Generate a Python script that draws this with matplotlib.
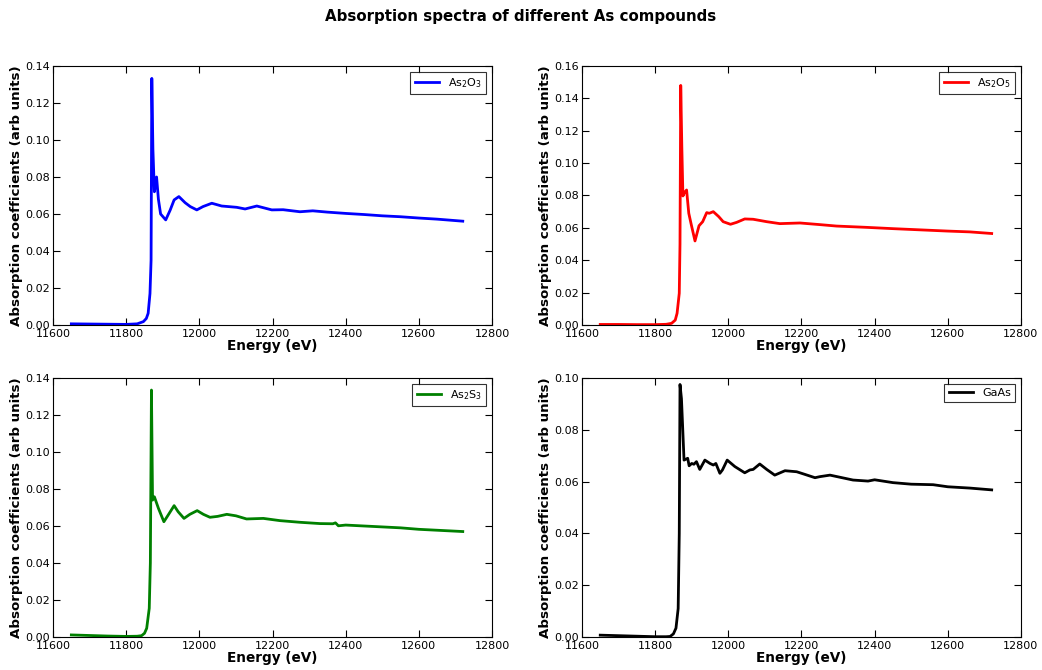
import numpy as np
import matplotlib
matplotlib.use("Agg")
from matplotlib import pyplot as plt
from matplotlib.ticker import FormatStrFormatter

# Spectra (energy in eV, absorption in arb units)
e_as2o3 = [11650, 11700, 11750, 11800, 11830, 11847, 11855, 11860, 11865, 11868,
           11870, 11873, 11877, 11883, 11888, 11894, 11908, 11920, 11931, 11944,
           11961, 11975, 11993, 12010, 12034, 12061, 12102, 12125, 12157, 12198,
           12229, 12275, 12310, 12350, 12400, 12450, 12500, 12550, 12600, 12650, 12720]
a_as2o3 = [0.0006, 0.0005, 0.0004, 0.0003, 0.0006, 0.0018, 0.0035, 0.0063, 0.017, 0.035,
           0.1333, 0.095, 0.072, 0.080, 0.068, 0.060, 0.0568, 0.062, 0.0676, 0.0694,
           0.0661, 0.064, 0.0622, 0.064, 0.0658, 0.0643, 0.0636, 0.0627, 0.0643, 0.0622,
           0.0623, 0.0612, 0.0617, 0.0610, 0.0603, 0.0597, 0.0590, 0.0585, 0.0578, 0.0572, 0.0561]

e_as2o5 = [11650, 11700, 11750, 11800, 11830, 11845, 11855, 11860, 11866, 11868,
           11870, 11873, 11876, 11881, 11886, 11892, 11898, 11909, 11920, 11930,
           11941, 11948, 11959, 11974, 11986, 12006, 12023, 12045, 12068, 12105,
           12141, 12196, 12250, 12296, 12378, 12450, 12520, 12600, 12660, 12720]
a_as2o5 = [0.0003, 0.0003, 0.0002, 0.0002, 0.0004, 0.001, 0.003, 0.0072, 0.0196, 0.05,
           0.148, 0.11, 0.0797, 0.082, 0.0834, 0.069, 0.0628, 0.0519, 0.0613, 0.0638,
           0.0694, 0.069, 0.070, 0.0669, 0.0638, 0.0622, 0.0634, 0.0655, 0.0653, 0.0638,
           0.0626, 0.063, 0.062, 0.0611, 0.0603, 0.0595, 0.0588, 0.058, 0.0575, 0.0565]

e_as2s3 = [11650, 11700, 11750, 11800, 11830, 11842, 11850, 11856, 11863, 11866,
           11869, 11872, 11877, 11888, 11903, 11915, 11931, 11942, 11958, 11974,
           11994, 12011, 12029, 12050, 12075, 12100, 12129, 12175, 12220, 12275,
           12330, 12365, 12372, 12380, 12400, 12450, 12500, 12550, 12600, 12660, 12720]
a_as2s3 = [0.0011, 0.0008, 0.0005, 0.0003, 0.0004, 0.0007, 0.002, 0.0047, 0.0155, 0.04,
           0.1335, 0.074, 0.0758, 0.0696, 0.0623, 0.066, 0.071, 0.0677, 0.0641, 0.0663,
           0.0683, 0.0663, 0.0647, 0.0652, 0.0663, 0.0655, 0.0638, 0.0641, 0.0629, 0.062,
           0.0613, 0.0612, 0.0617, 0.0601, 0.0605, 0.0600, 0.0595, 0.0590, 0.0582, 0.0576, 0.0570]

e_gaas = [11650, 11700, 11750, 11800, 11830, 11841, 11850, 11857, 11863, 11866,
          11868, 11872, 11875, 11879, 11889, 11893, 11900, 11906, 11913, 11922,
          11936, 11950, 11959, 11966, 11977, 11984, 11997, 12018, 12045, 12059,
          12068, 12086, 12105, 12127, 12155, 12187, 12209, 12237, 12250, 12278,
          12341, 12382, 12400, 12450, 12500, 12560, 12600, 12660, 12720]
a_gaas = [0.0007, 0.0005, 0.0003, 0.0001, 0.0001, 0.0002, 0.0012, 0.0034, 0.011, 0.04,
          0.0975, 0.092, 0.0819, 0.0683, 0.069, 0.0661, 0.067, 0.0667, 0.0677, 0.0647,
          0.0683, 0.067, 0.0664, 0.067, 0.0632, 0.0645, 0.0683, 0.0658, 0.0634, 0.0645,
          0.0647, 0.0668, 0.0647, 0.0625, 0.0642, 0.0638, 0.0628, 0.0615, 0.0619, 0.0625,
          0.0606, 0.0602, 0.0607, 0.0596, 0.0590, 0.0588, 0.0580, 0.0575, 0.0568]

series = [
    (e_as2o3, a_as2o3, "b", r"As$_2$O$_3$", 0.14),
    (e_as2o5, a_as2o5, "r", r"As$_2$O$_5$", 0.16),
    (e_as2s3, a_as2s3, "g", r"As$_2$S$_3$", 0.14),
    (e_gaas, a_gaas, "k", "GaAs", 0.10),
]

# axes boxes (left, bottom, width, height) in figure fractions
boxes = [
    [0.0509, 0.515, 0.4213, 0.3865],
    [0.5585, 0.515, 0.4213, 0.3865],
    [0.0509, 0.0493, 0.4213, 0.3865],
    [0.5585, 0.0493, 0.4213, 0.3865],
]

fig = plt.figure(figsize=(10.42, 6.7), dpi=100)
fig.suptitle("Absorption spectra of different As compounds", fontsize=10.8,
             fontweight="bold", y=0.986)

for (x, y, c, lab, ymax), box in zip(series, boxes):
    ax = fig.add_axes(box)
    ax.plot(x, y, color=c, linewidth=2, label=lab)
    ax.set_xlim(11600, 12800)
    ax.set_ylim(0, ymax)
    ax.set_xticks(np.arange(11600, 12801, 200))
    ax.set_yticks(np.arange(0, ymax + 1e-9, 0.02))
    ax.yaxis.set_major_formatter(FormatStrFormatter("%.2f"))
    ax.tick_params(direction="in", top=True, right=True, labelsize=8,
                   length=5, pad=2)
    ax.tick_params(axis="x", pad=3)
    ax.set_xlabel("Energy (eV)", fontsize=9.8, fontweight="bold", labelpad=0)
    ax.set_ylabel("Absorption coefficients (arb units)", fontsize=9.6,
                  fontweight="bold", labelpad=2)
    leg = ax.legend(loc="upper right", fontsize=8, fancybox=False,
                    handlelength=2.2, borderpad=0.4)
    leg.get_frame().set_edgecolor("black")
    leg.get_frame().set_linewidth(0.8)

fig.savefig("out.png", dpi=100)
